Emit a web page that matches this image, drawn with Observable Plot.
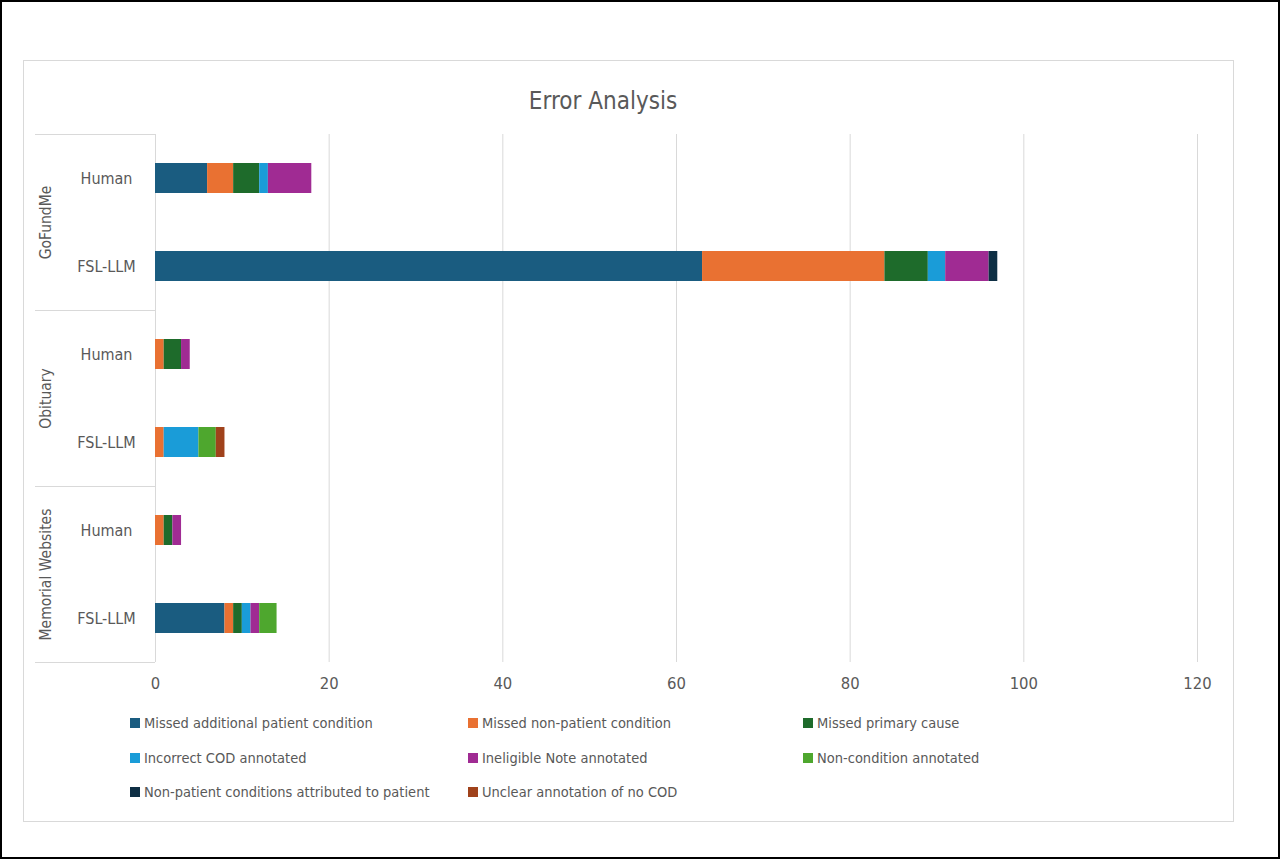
<!DOCTYPE html>
<html>
<head>
<meta charset="utf-8">
<script src="https://cdn.jsdelivr.net/npm/d3@7"></script>
<script src="https://cdn.jsdelivr.net/npm/@observablehq/plot@0.6"></script>
<style>
  body { margin: 0; background: #fff; }
  #page { position: relative; width: 1280px; height: 859px; background: #fff; overflow: hidden;
          font-family: "Liberation Sans Narrow", "Arial Narrow", "DejaVu Sans Condensed", sans-serif; color: #595959; }
  #outer { position: absolute; left: 0; top: 0; width: 1280px; height: 859px; box-sizing: border-box; border: 2px solid #000; }
  #frame { position: absolute; left: 23px; top: 60px; width: 1211px; height: 762px; box-sizing: border-box; border: 1px solid #d9d9d9; }
  #title { position: absolute; left: 0; width: 1206px; top: 86px; text-align: center; font-size: 24px; line-height: 30px; }
  #chart { position: absolute; left: 0; top: 120px; }
  .lg { position: absolute; display: flex; align-items: center; font-size: 14.5px; white-space: nowrap; height: 20px; }
  .lg span.sw { display: inline-block; width: 10px; height: 10px; margin-right: 4px; }
</style>
</head>
<body>
<div id="page">
  <div id="outer"></div>
  <div id="frame"></div>
  <div id="title">Error Analysis</div>
  <div id="chart"></div>
  <div id="legend"></div>
</div>
<script>
// ---- data ----
const groups = ["GoFundMe", "Obituary", "Memorial Websites"];
const sources = ["Human", "FSL-LLM"];
const rowGroups  = ["GoFundMe", "GoFundMe", "Obituary", "Obituary", "Memorial Websites", "Memorial Websites"];
const rowSources = ["Human", "FSL-LLM", "Human", "FSL-LLM", "Human", "FSL-LLM"];
const categories = [
  "Missed additional patient condition",
  "Missed non-patient condition",
  "Missed primary cause",
  "Incorrect COD annotated",
  "Ineligible Note annotated",
  "Non-condition annotated",
  "Non-patient conditions attributed to patient",
  "Unclear annotation of no COD"
];
const colors = ["#1a5c80", "#e97132", "#1e6b2b", "#1a9cd8", "#a02b93", "#4ea72e", "#0e2f44", "#a0421b"];
// values per row (GFM Human, GFM FSL-LLM, Obit Human, Obit FSL-LLM, Mem Human, Mem FSL-LLM)
const missedAdditional     = [6, 63, 0, 0, 0, 8];
const missedNonPatient     = [3, 21, 1, 1, 1, 1];
const missedPrimary        = [3, 5, 2, 0, 1, 1];
const incorrectCOD         = [1, 2, 0, 4, 0, 1];
const ineligibleNote       = [5, 5, 1, 0, 1, 1];
const nonCondition         = [0, 0, 0, 2, 0, 2];
const nonPatientAttributed = [0, 1, 0, 0, 0, 0];
const unclearNoCOD         = [0, 0, 0, 1, 0, 0];
const xTicks = [0, 20, 40, 60, 80, 100, 120];

const series = [missedAdditional, missedNonPatient, missedPrimary, incorrectCOD,
                ineligibleNote, nonCondition, nonPatientAttributed, unclearNoCOD];
const data = [];
rowGroups.forEach((g, r) => {
  categories.forEach((c, k) => {
    const v = series[k][r];
    if (v > 0) data.push({group: g, source: rowSources[r], category: c, value: v});
  });
});

const FONT = '"Liberation Sans Narrow", "Arial Narrow", "DejaVu Sans Condensed", sans-serif';
const chart = Plot.plot({
  width: 1280,
  height: 590,
  marginLeft: 155,
  marginRight: 83,
  marginTop: 13,
  marginBottom: 48,
  style: {fontFamily: FONT, fontSize: "16px", color: "#595959", background: "transparent", overflow: "visible"},
  x: {domain: [0, 120], label: null},
  y: {domain: sources, paddingInner: 0.66, paddingOuter: 0.33, label: null},
  fy: {domain: groups, padding: 0, label: null},
  color: {domain: categories, range: colors},
  marks: [
    Plot.gridX(xTicks, {stroke: "#d9d9d9", strokeOpacity: 1, strokeWidth: 1}),
    Plot.barX(data, {x: "value", y: "source", fy: "group", fill: "category"}),
    Plot.axisX({ticks: xTicks, tickSize: 0, tickPadding: 15, fontSize: 16.5, fill: "#595959", label: null}),
    Plot.axisY({tickSize: 0, tickPadding: 49, textAnchor: "middle", fontSize: 16, fill: "#595959", label: null}),
    Plot.axisFy({anchor: "left", tickSize: 0, tickRotate: -90, tickPadding: 109, textAnchor: "middle",
                 lineAnchor: "middle", fontSize: 15.5, fill: "#595959", label: null})
  ]
});
document.getElementById("chart").appendChild(chart);

// group divider lines in the category-label area, positioned from the fy scale
const fy = chart.scale("fy");
const bounds = groups.map(g => fy.apply(g)).concat([fy.apply(groups[groups.length - 1]) + fy.bandwidth]);
d3.select(chart).append("g")
  .attr("stroke", "#d9d9d9")
  .selectAll("line").data(bounds).join("line")
  .attr("x1", 35).attr("x2", 155)
  .attr("y1", d => Math.round(d) + 0.5).attr("y2", d => Math.round(d) + 0.5);

// legend
const legend = document.getElementById("legend");
const colX = [130, 468, 803];
const rowY = [713, 748, 782];
categories.forEach((c, i) => {
  const d = document.createElement("div");
  d.className = "lg";
  d.style.left = colX[i % 3] + "px";
  d.style.top = rowY[Math.floor(i / 3)] + "px";
  d.innerHTML = `<span class="sw" style="background:${colors[i]}"></span>${c}`;
  legend.appendChild(d);
});
</script>
</body>
</html>
